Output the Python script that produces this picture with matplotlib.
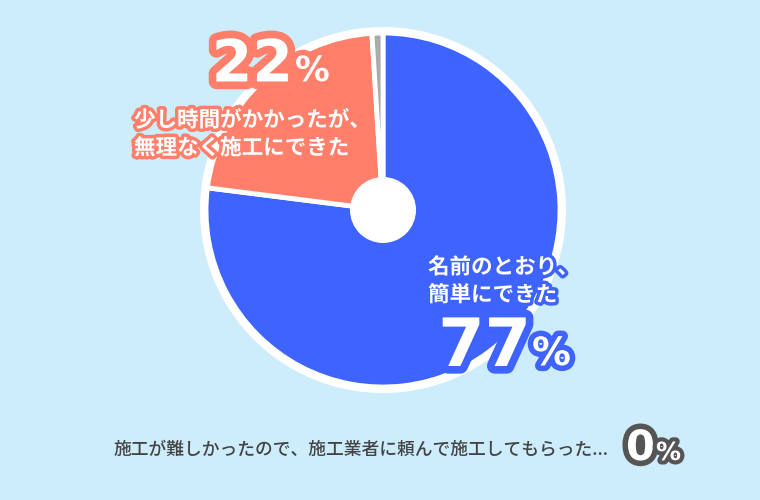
import matplotlib.pyplot as plt
import matplotlib.patheffects as pe
from matplotlib.patches import Circle

plt.rcParams['font.family'] = ['Noto Sans CJK JP', 'DejaVu Sans']

# ------------------------------------------------------------
# data
# ------------------------------------------------------------
labels = ["名前のとおり、\n簡単にできた", "少し時間がかかったが、\n無理なく施工にできた", ""]
values = [77, 22, 1]
colors = ["#3f63fe", "#ff7f6b", "#aaaaaa"]

other_label = "施工が難しかったので、施工業者に頼んで施工してもらった..."
other_value = 0

bg = "#cdedfc"

# ------------------------------------------------------------
# figure (axes in pixel units, y flipped by hand)
# ------------------------------------------------------------
fig = plt.figure(figsize=(7.6, 5), dpi=100, facecolor=bg)
ax = fig.add_axes([0, 0, 1, 1])
ax.set_facecolor(bg)

def Y(y):
    return 500 - y

cx, cy = 383, Y(210)

ax.add_patch(Circle((cx, cy), 183, facecolor="white", edgecolor="none", zorder=1))
wedges, _ = ax.pie(values, colors=colors, startangle=90, counterclock=False,
                   center=(cx, cy), radius=177,
                   wedgeprops=dict(edgecolor="white", linewidth=3.5))
for w in wedges:
    w.set_zorder(2)
ax.add_patch(Circle((cx, cy), 33, facecolor="white", edgecolor="none", zorder=3))

ax.set_xlim(0, 760)
ax.set_ylim(0, 500)
ax.set_aspect("auto")
ax.axis("off")

def stroke(c, w=6):
    return [pe.withStroke(linewidth=w, foreground=c)]

# ------------------------------------------------------------
# labels
# ------------------------------------------------------------
# 22%
ax.text(293, Y(65), str(values[1]), fontsize=42, fontweight="bold", color="white",
        ha="right", va="center", family=["DejaVu Sans"],
        path_effects=stroke(colors[1], 11), zorder=5)
ax.text(295, Y(71), "%", fontsize=25, fontweight="bold", color="white",
        ha="left", va="center", family=["DejaVu Sans"],
        path_effects=stroke(colors[1], 8), zorder=5)
ax.text(134, Y(134), labels[1], fontsize=15.5, fontweight="bold", color="white",
        ha="left", va="center", linespacing=1.4,
        path_effects=stroke(colors[1], 5), zorder=5)

# 77%
ax.text(531, Y(347), str(values[0]), fontsize=48, fontweight="bold", color="white",
        ha="right", va="center", family=["DejaVu Sans"],
        path_effects=stroke(colors[0], 11), zorder=5)
ax.text(532, Y(354), "%", fontsize=28, fontweight="bold", color="white",
        ha="left", va="center", family=["DejaVu Sans"],
        path_effects=stroke(colors[0], 8), zorder=5)
ax.text(428, Y(281), labels[0], fontsize=15.5, fontweight="bold", color="white",
        ha="left", va="center", linespacing=1.4,
        path_effects=stroke(colors[0], 5), zorder=5)

# 0%
ax.text(113, Y(450), other_label, fontsize=12.8, fontweight="medium", color="#444444",
        ha="left", va="center", zorder=5)
ax.text(655, Y(448), str(other_value), fontsize=30, fontweight="bold", color="white",
        ha="right", va="center", family=["DejaVu Sans"],
        path_effects=stroke("#555555", 8), zorder=5)
ax.text(656, Y(453), "%", fontsize=18, fontweight="bold", color="white",
        ha="left", va="center", family=["DejaVu Sans"],
        path_effects=stroke("#555555", 6), zorder=5)

plt.savefig("out.png", dpi=100, facecolor=bg)
